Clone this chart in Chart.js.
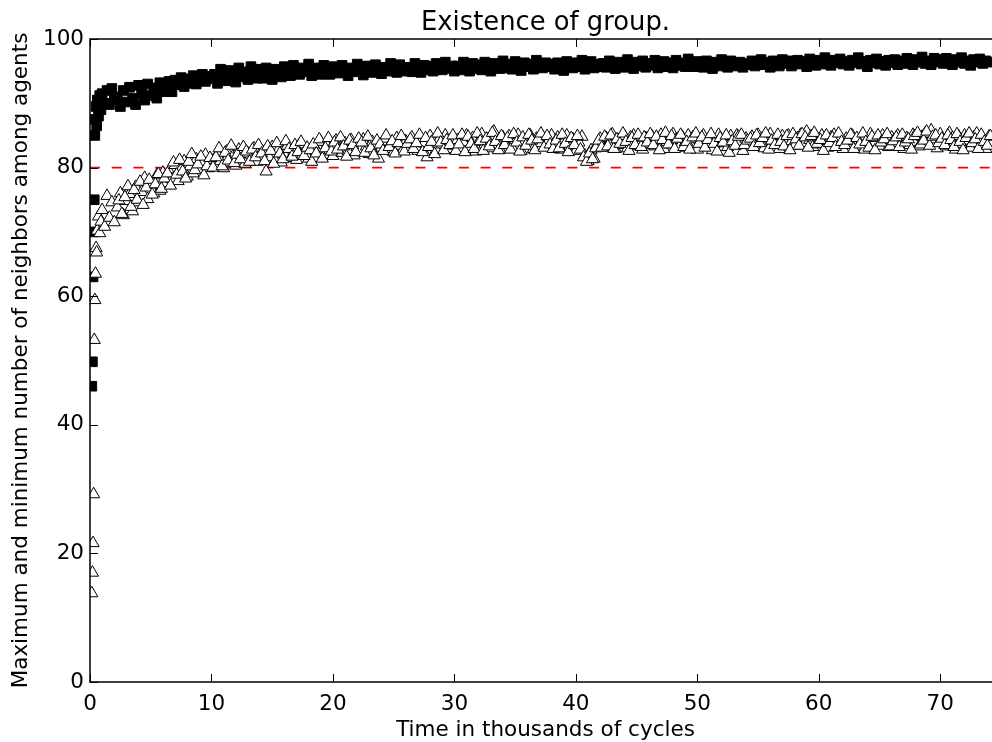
<!DOCTYPE html>
<html>
<head>
<meta charset="utf-8">
<script src="https://cdn.jsdelivr.net/npm/chart.js@4.4.1/dist/chart.umd.min.js"></script>
<style>
  html, body { margin: 0; padding: 0; background: #fff; overflow: hidden; width: 992px; height: 742px; }
  #wrap { width: 1010px; height: 742px; }
</style>
</head>
<body>
<div id="wrap"><canvas id="myChart" width="1010" height="742"></canvas></div>
<script>
// time in thousands of cycles: first samples are irregular, then every 250 cycles
// (the minimum series also has a second set of samples in between)
var earlyTimes = [0.15, 0.2, 0.25, 0.3, 0.35, 0.4, 0.45, 0.5, 0.55, 0.6, 0.7, 0.8, 0.9, 1.0, 1.2, 1.4, 1.6, 1.8, 2.0];
var lateStart = 2.25;
var midStart = 2.375;
var lateStep = 0.25;

var maxEarly = [46.0, 49.8, 63.0, 70.0, 75.0, 85.0, 87.5, 89.5, 86.5, 90.5, 88.0, 91.2, 89.0, 91.5, 90.0, 92.0, 89.8, 92.3, 90.6];
var minEarly = [13.8, 17.0, 21.6, 29.2, 53.2, 59.4, 63.5, 67.5, 66.8, 70.2, 72.4, 69.8, 71.6, 73.4, 70.8, 75.6, 72.2, 74.6, 71.5];

// maximum number of neighbors (black squares), from t = 2.25
var maxLate = [
  91.0, 89.5, 92.0, 90.2, 92.5, 90.8, 89.8, 92.8, 91.5, 90.5, 93.0, 91.2, 92.4, 90.8, 93.2, 91.8,
  92.5, 93.4, 91.8, 93.6, 92.9, 94.0, 92.6, 93.8, 93.1, 94.3, 93.0, 93.9, 94.5, 93.4, 94.2, 93.8,
  94.5, 93.1, 95.3, 93.9, 93.5, 95.1, 94.3, 93.3, 95.5, 94.1, 94.9, 93.7, 95.7, 94.5, 93.9, 95.3,
  93.9, 95.5, 94.5, 93.7, 95.3, 94.7, 94.1, 95.7, 94.9, 94.3, 95.9, 95.1, 94.5, 95.5, 94.9, 96.1,
  94.3, 95.5, 94.9, 94.5, 95.9, 95.1, 94.5, 95.7, 94.9, 94.7, 95.9, 95.3, 94.3, 95.5, 94.9, 96.1,
  95.0, 94.4, 95.8, 95.2, 94.8, 96.0, 95.4, 94.6, 95.6, 95.0, 96.2, 95.2, 94.8, 96.0, 95.4, 95.0,
  95.6, 94.9, 96.2, 95.4, 94.8, 95.9, 95.2, 95.8, 95.0, 96.2, 95.6, 95.2, 96.4, 95.4, 95.8, 95.0,
  95.8, 95.2, 96.4, 95.6, 95.0, 96.2, 95.4, 96.0, 95.2, 96.4, 95.6, 95.0, 96.2, 95.8, 95.4, 96.6,
  95.5, 96.1, 95.3, 96.5, 95.9, 95.1, 96.3, 95.7, 96.1, 95.3, 96.7, 95.9, 95.5, 96.3, 95.7, 96.1,
  95.3, 96.3, 95.7, 95.1, 96.5, 95.9, 95.5, 96.3, 95.7, 96.7, 95.3, 95.9, 96.5, 95.5, 96.1, 95.7,
  96.2, 95.6, 96.6, 95.8, 95.4, 96.4, 96.0, 95.6, 96.8, 96.0, 95.4, 96.4, 95.8, 96.6, 95.6, 96.2,
  95.9, 96.7, 95.5, 96.1, 96.5, 95.7, 96.3, 95.5, 96.7, 95.9, 96.3, 95.7, 96.9, 96.1, 95.7, 96.5,
  96.2, 95.6, 96.6, 96.0, 95.4, 96.4, 95.8, 96.8, 96.0, 95.6, 96.6, 96.2, 95.8, 96.4, 95.6, 96.2,
  96.0, 96.6, 95.8, 96.4, 96.8, 96.0, 96.4, 95.6, 96.6, 96.2, 95.8, 96.8, 96.2, 96.6, 95.8, 96.4,
  96.7, 96.1, 96.5, 95.7, 96.9, 96.3, 95.9, 96.7, 96.1, 97.1, 96.3, 95.9, 96.7, 96.3, 96.9, 96.1,
  96.5, 95.9, 96.7, 96.3, 97.1, 96.1, 96.5, 95.7, 96.7, 96.3, 96.9, 96.1, 96.5, 95.9, 96.7, 96.3,
  96.8, 96.0, 96.6, 96.2, 97.0, 96.4, 96.0, 96.8, 96.4, 97.2, 96.2, 96.6, 96.0, 97.0, 96.4, 96.8,
  96.2, 97.0, 96.6, 96.0, 96.8, 96.4, 97.1, 96.2, 96.6, 95.9, 96.8, 96.4, 96.9, 96.2, 96.6, 96.4
];

// minimum number of neighbors (open triangles), from t = 2.25
var minLate = [
  73.8, 76.0, 72.6, 74.8, 75.9, 73.2, 77.0, 74.6, 76.2, 78.4, 75.1, 77.3, 76.0, 78.8, 76.4, 79.2,
  77.6, 79.5, 78.2, 80.4, 77.9, 79.8, 81.0, 78.6, 80.2, 79.1, 81.3, 79.7, 80.6, 82.0, 79.9, 81.2,
  80.4, 82.1, 81.0, 79.9, 82.5, 80.8, 81.7, 80.3, 82.8, 81.4, 80.6, 82.2, 81.1, 83.0, 80.9, 81.8,
  82.4, 79.4, 81.6, 83.2, 81.0, 82.7, 80.8, 82.1, 83.4, 81.5, 82.9, 81.2, 83.6, 82.0, 82.6, 81.4,
  80.9, 83.1, 82.4, 84.0, 82.0, 83.5, 82.7, 81.8, 84.2, 83.0, 82.3, 83.8, 82.6, 84.3, 81.9, 83.2,
  82.8, 84.4, 83.3, 82.1, 84.0, 83.6, 81.4, 83.1, 84.5, 82.9, 83.7, 82.4, 84.6, 83.4, 82.7, 84.1,
  83.0, 84.7, 83.5, 82.6, 84.2, 83.8, 81.6, 84.9, 83.3, 82.8, 84.4, 83.6, 85.0, 82.9, 84.1, 83.4,
  84.3, 82.7, 83.9, 85.0, 83.2, 84.6, 82.5, 84.0, 85.2, 83.6, 84.4, 83.0, 85.6, 84.1, 82.8, 84.7,
  83.5, 84.9, 83.1, 84.3, 85.1, 82.6, 84.0, 83.7, 85.0, 82.9, 84.5, 83.8, 84.8, 83.2, 84.2, 85.0,
  83.4, 84.7, 82.8, 84.1, 85.0, 83.3, 84.4, 82.6, 83.9, 84.8, 81.9, 81.0, 82.7, 81.4, 83.6, 84.5,
  83.1, 84.6, 83.8, 85.2, 82.9, 84.3, 83.5, 84.9, 83.0, 84.7, 85.0, 83.4, 84.2, 82.8, 84.6, 83.7,
  84.9, 83.3, 84.4, 85.1, 82.9, 84.0, 83.6, 85.2, 84.3, 83.1, 84.8, 83.9, 85.0, 83.4, 84.5, 82.8,
  84.2, 85.0, 83.5, 84.6, 82.7, 84.1, 85.1, 83.8, 84.4, 83.2, 84.9, 83.6, 85.0, 84.0, 82.6, 84.5,
  83.9, 84.8, 83.3, 85.1, 84.2, 83.0, 84.7, 85.2, 83.6, 84.4, 82.9, 84.9, 83.7, 85.0, 84.1, 83.4,
  84.6, 85.1, 83.8, 85.6, 84.3, 83.2, 84.9, 83.6, 85.0, 84.2, 83.1, 84.7, 85.1, 83.9, 84.4, 82.9,
  84.5, 83.7, 85.0, 84.1, 83.3, 84.8, 82.8, 84.3, 85.2, 83.9, 84.6, 83.4, 85.0, 84.0, 83.2, 84.7,
  83.8, 85.0, 84.3, 82.9, 84.6, 83.5, 85.1, 84.0, 83.3, 84.8, 85.3, 83.7, 85.8, 84.4, 83.0, 85.2,
  84.1, 83.3, 85.4, 84.6, 82.8, 84.9, 83.7, 85.0, 84.2, 83.1, 84.7, 85.3, 83.6, 84.4, 82.9, 84.8
];

// minimum number of neighbors, in-between samples from t = 2.375
var minMid = [
  74.9, 72.8, 75.4, 77.1, 73.9, 76.5, 75.0, 77.8, 74.2, 76.9, 78.1, 75.8, 77.4, 79.0, 76.7, 78.3,
  79.1, 77.2, 80.8, 78.9, 81.2, 79.4, 78.3, 80.9, 82.1, 79.6, 80.5, 81.7, 78.8, 80.2, 81.5, 80.0,
  81.6, 83.0, 80.2, 82.3, 81.1, 83.4, 80.7, 82.0, 81.3, 83.2, 82.5, 80.9, 82.8, 81.6, 83.5, 82.2,
  81.0, 83.3, 82.6, 80.6, 83.8, 82.2, 81.3, 84.1, 82.9, 81.7, 83.5, 82.4, 84.0, 81.8, 83.1, 82.7,
  83.6, 82.2, 84.4, 81.4, 83.0, 84.6, 82.5, 83.9, 82.8, 84.7, 83.3, 81.7, 84.2, 83.5, 82.4, 84.5,
  83.9, 82.3, 84.8, 83.0, 81.9, 84.2, 83.6, 82.6, 85.0, 83.2, 84.1, 82.2, 83.8, 84.9, 82.5, 83.7,
  84.4, 82.9, 83.8, 85.1, 82.4, 84.6, 83.2, 84.0, 82.1, 85.3, 83.9, 82.7, 84.3, 83.5, 85.0, 82.6,
  83.6, 85.1, 82.4, 84.8, 83.7, 82.9, 85.3, 84.1, 82.6, 84.5, 83.3, 85.4, 84.0, 82.7, 84.9, 83.5,
  84.6, 82.8, 85.2, 83.9, 82.5, 84.7, 83.4, 85.1, 84.2, 82.7, 84.4, 85.3, 83.1, 84.9, 83.6, 82.9,
  84.2, 83.0, 85.1, 83.7, 82.4, 84.6, 83.5, 84.9, 82.8, 81.6, 80.9, 82.2, 81.3, 83.0, 84.2, 83.1,
  84.8, 83.3, 85.0, 82.9, 84.4, 83.7, 85.3, 84.0, 82.6, 84.6, 83.5, 85.1, 83.2, 84.7, 83.9, 85.2,
  83.5, 84.8, 82.7, 84.3, 85.4, 83.6, 84.9, 82.9, 84.5, 85.1, 83.2, 84.0, 82.8, 84.7, 85.3, 83.7,
  84.7, 83.1, 84.3, 85.2, 83.7, 82.5, 84.6, 83.9, 85.0, 82.3, 84.1, 83.4, 84.8, 85.1, 83.5, 84.2,
  84.5, 83.2, 85.0, 83.8, 84.6, 85.3, 82.8, 84.2, 83.5, 85.1, 84.0, 83.3, 84.9, 82.7, 85.2, 84.4,
  83.4, 85.2, 84.7, 83.1, 84.9, 85.4, 83.7, 84.3, 82.6, 85.0, 83.8, 84.6, 83.2, 85.3, 84.0, 83.5,
  84.2, 85.1, 82.9, 84.6, 83.6, 85.3, 84.0, 83.1, 84.8, 82.7, 85.0, 83.9, 84.4, 85.2, 83.3, 84.1,
  84.7, 83.2, 85.1, 83.9, 84.4, 82.8, 84.9, 85.4, 83.6, 84.2, 85.6, 83.4, 84.8, 85.0, 83.8, 84.5,
  83.5, 85.0, 84.3, 83.2, 85.2, 84.0, 82.7, 84.6, 85.3, 83.8, 84.4, 82.9, 85.1, 84.0, 83.4, 84.9
];

var threshold = 80;
var xTicks = [0, 10, 20, 30, 40, 50, 60, 70];
var yTicks = [0, 20, 40, 60, 80, 100];

var titleText = "Existence of group.";
var xLabel = "Time in thousands of cycles";
var yLabel = "Maximum and minimum number of neighbors among agents";

function toPoints(early, late, start) {
  var pts = [];
  var i;
  for (i = 0; early && i < early.length; i++) {
    pts.push({ x: earlyTimes[i], y: early[i] });
  }
  for (i = 0; i < late.length; i++) {
    pts.push({ x: start + i * lateStep, y: late[i] });
  }
  return pts;
}

var minPoints = toPoints(minEarly, minLate, lateStart).concat(toPoints(null, minMid, midStart));
var maxPoints = toPoints(maxEarly, maxLate, lateStart);

var FONT = "'DejaVu Sans', sans-serif";

// frame, inward ticks and the text labels, matplotlib style
var framePlugin = {
  id: "frame",
  afterDatasetsDraw: function (chart) {
    var ctx = chart.ctx;
    var a = chart.chartArea;
    var xs = chart.scales.x;
    var ys = chart.scales.y;
    ctx.save();
    ctx.strokeStyle = "#000";
    ctx.lineWidth = 1.5;
    ctx.strokeRect(a.left, a.top, a.right - a.left, a.bottom - a.top);
    ctx.lineWidth = 1;
    ctx.beginPath();
    xTicks.forEach(function (t) {
      var px = Math.round(xs.getPixelForValue(t)) + 0.5;
      ctx.moveTo(px, a.bottom);
      ctx.lineTo(px, a.bottom - 8);
      ctx.moveTo(px, a.top);
      ctx.lineTo(px, a.top + 8);
    });
    yTicks.forEach(function (t) {
      var py = Math.round(ys.getPixelForValue(t)) + 0.5;
      ctx.moveTo(a.left, py);
      ctx.lineTo(a.left + 8, py);
      ctx.moveTo(a.right, py);
      ctx.lineTo(a.right - 8, py);
    });
    ctx.stroke();

    var cx = (a.left + a.right) / 2;
    ctx.fillStyle = "#000";
    ctx.textAlign = "center";
    ctx.textBaseline = "alphabetic";
    ctx.font = "25.8px " + FONT;
    ctx.fillText(titleText, cx, 30);
    ctx.font = "21.5px " + FONT;
    ctx.fillText(xLabel, cx, 736);
    ctx.translate(27, (a.top + a.bottom) / 2);
    ctx.rotate(-Math.PI / 2);
    ctx.fillText(yLabel, 0, 0);
    ctx.restore();
  }
};

var ctx = document.getElementById("myChart");

var myChart = new Chart(ctx, {
  type: "scatter",
  data: {
    datasets: [
      {
        label: "Minimum",
        data: minPoints,
        pointStyle: "triangle",
        pointRadius: 7,
        backgroundColor: "#fff",
        borderColor: "#000",
        borderWidth: 1
      },
      {
        label: "Maximum",
        data: maxPoints,
        pointStyle: "rect",
        pointRadius: 6.8,
        backgroundColor: "#000",
        borderColor: "#000",
        borderWidth: 1
      },
      {
        type: "line",
        label: "Threshold",
        data: [{ x: 0, y: threshold }, { x: 75, y: threshold }],
        borderColor: "#ff0000",
        borderWidth: 1.6,
        borderDash: [10, 11.7],
        pointRadius: 0,
        fill: false
      }
    ]
  },
  options: {
    responsive: false,
    animation: false,
    events: [],
    layout: { padding: { top: 39, right: 9, bottom: 0, left: 0 } },
    plugins: {
      legend: { display: false },
      tooltip: { enabled: false },
      title: { display: false }
    },
    scales: {
      x: {
        type: "linear",
        min: 0,
        max: 75,
        grid: { display: false, drawTicks: false },
        border: { display: false },
        afterFit: function (scale) { scale.height = 60; },
        afterBuildTicks: function (scale) {
          scale.ticks = xTicks.map(function (v) { return { value: v }; });
        },
        ticks: {
          padding: 10,
          color: "#000",
          font: { family: FONT, size: 21.5 },
          maxRotation: 0
        }
      },
      y: {
        min: 0,
        max: 100,
        grid: { display: false, drawTicks: false },
        border: { display: false },
        afterFit: function (scale) { scale.width = 90; },
        afterBuildTicks: function (scale) {
          scale.ticks = yTicks.map(function (v) { return { value: v }; });
        },
        ticks: {
          padding: 6,
          color: "#000",
          font: { family: FONT, size: 21.5 }
        }
      }
    }
  },
  plugins: [framePlugin]
});
</script>
</body>
</html>
